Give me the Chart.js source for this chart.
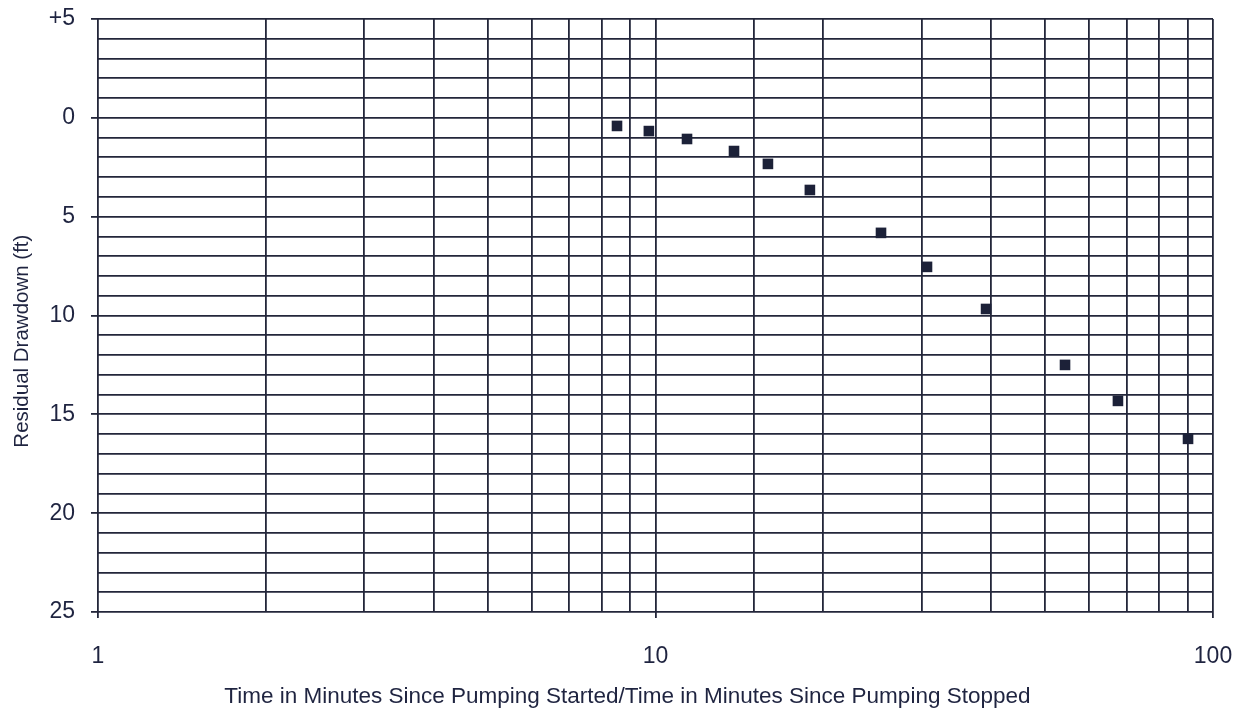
<!DOCTYPE html>
<html>
<head>
<meta charset="utf-8">
<script src="https://cdn.jsdelivr.net/npm/chart.js@4/dist/chart.umd.min.js"></script>
<style>
  html, body { margin: 0; padding: 0; background: #ffffff; }
  #wrap { width: 1252px; height: 714px; }
</style>
</head>
<body>
<div id="wrap"><canvas id="recoveryChart" width="1252" height="714"></canvas></div>
<script>
// time ratio t/t' (minutes) and residual drawdown (ft)
const timeRatio = [8.53, 9.73, 11.39, 13.83, 15.91, 18.92, 25.38, 30.69, 39.17, 54.27, 67.53, 90.2];
const residualDrawdown = [0.41, 0.67, 1.07, 1.68, 2.33, 3.65, 5.82, 7.54, 9.67, 12.5, 14.32, 16.24];
const xLabels = [1, 10, 100];

const gridColor = '#23263a';
const textColor = '#1f2440';
const fontFamily = '"Liberation Sans", Arial, sans-serif';

const points = timeRatio.map((t, i) => ({ x: t, y: residualDrawdown[i] }));

const ctx = document.getElementById('recoveryChart').getContext('2d');

new Chart(ctx, {
  type: 'scatter',
  data: {
    datasets: [
      {
        data: points,
        pointStyle: 'rect',
        pointRadius: 7.5,
        pointHoverRadius: 7.5,
        backgroundColor: '#1c2138',
        borderColor: '#1c2138',
        borderWidth: 0,
      },
    ],
  },
  options: {
    responsive: false,
    animation: false,
    layout: {
      padding: { top: 19, right: 39, bottom: 0, left: 0 },
    },
    plugins: {
      legend: { display: false },
      tooltip: { enabled: false },
    },
    scales: {
      x: {
        type: 'logarithmic',
        min: 1,
        max: 100,
        afterFit: (scale) => {
          scale.height = 102;
          scale.paddingLeft = 0;
          scale.paddingRight = 0;
        },
        border: { display: false },
        grid: {
          color: gridColor,
          lineWidth: 1.8,
          tickLength: 6,
          tickColor: (c) => (xLabels.includes(c.tick.value) ? gridColor : 'transparent'),
        },
        ticks: {
          autoSkip: false,
          maxRotation: 0,
          padding: 25,
          color: textColor,
          font: { family: fontFamily, size: 23 },
          callback: (value) => (xLabels.includes(value) ? String(value) : ''),
        },
        title: {
          display: true,
          // trailing spaces nudge the centred title left like the original
          text: 'Time in Minutes Since Pumping Started/Time in Minutes Since Pumping Stopped         ',
          color: textColor,
          font: { family: fontFamily, size: 22.5 },
          padding: { top: 0, bottom: 4 },
        },
      },
      y: {
        min: -5,
        max: 25,
        reverse: true,
        afterFit: (scale) => {
          scale.width = 98;
          scale.paddingTop = 0;
          scale.paddingBottom = 0;
        },
        border: { display: false },
        grid: {
          color: gridColor,
          lineWidth: 1.8,
          tickLength: 7,
          tickColor: (c) => (c.tick.value % 5 === 0 ? gridColor : 'transparent'),
        },
        ticks: {
          stepSize: 1,
          autoSkip: false,
          padding: 16,
          color: textColor,
          font: { family: fontFamily, size: 23 },
          callback: (value) => {
            if (value % 5 !== 0) return '';
            return value < 0 ? '+' + Math.abs(value) : String(value);
          },
        },
        title: {
          display: true,
          text: 'Residual Drawdown (ft)         ',
          color: textColor,
          font: { family: fontFamily, size: 20.5 },
          padding: { top: 10, bottom: 0 },
        },
      },
    },
  },
});
</script>
</body>
</html>
